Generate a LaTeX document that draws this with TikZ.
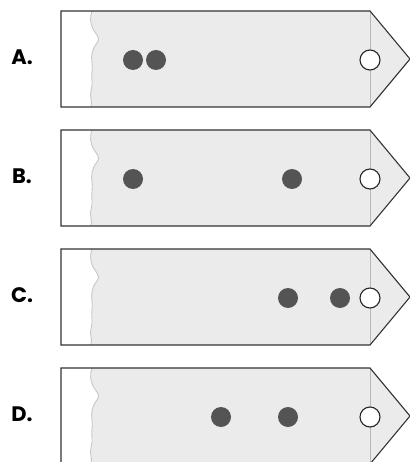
\documentclass[tikz,border=0pt]{standalone}
\usepackage{fontspec}
\setsansfont{Poppins}
\usetikzlibrary{calc,positioning}
\tikzset{
  tagline/.style={
      draw=black!80,
      line width=1.1pt,
      line join=miter,
  },
  paper/.style={
      fill=black!8,
  },
  tear/.style={
      draw=black!22,
      line width=0.9pt,
  },
  fold/.style={
      draw=black!28,
      line width=0.8pt,
  },
  hole/.style={
      circle,
      draw=black!85,
      line width=1.1pt,
      fill=white,
      minimum size=20pt,
      inner sep=0pt,
  },
  bead/.style={
      circle,
      fill=black!67,
      minimum size=20pt,
      inner sep=0pt,
  },
  letter/.style={
      font=\sffamily\bfseries\fontsize{21}{21}\selectfont,
  },
}
\newcommand{\tagoutline}{(61,0) -- (370,0) -- (410,48) -- (370,96) -- (61,96) -- cycle}
\newcommand{\tearedge}{(92,0) .. controls (90,6) and (90,12) .. (93,18)
  .. controls (96,24) and (101,26) .. (97,32)
  .. controls (92,38) and (91,44) .. (92,52)
  .. controls (93,58) and (91,64) .. (92,70)
  .. controls (93,76) and (89,82) .. (91,88)
  .. controls (92,92) and (91,94) .. (91,96)}

\begin{document}
\begin{tikzpicture}[x=1pt,y=-1pt]
  \useasboundingbox (0,0) rectangle (409,462);
  % one tag per answer
  \foreach \lbl/\top/\beads in {A/11/{133,156}, B/130/{133,292}, C/249/{288,340}, D/368/{221,288}} {
    \begin{scope}[shift={(0,\top)}]
      \fill[paper] \tagoutline;
      \fill[white] (61,0) -- \tearedge -- (61,96) -- cycle;
      \draw[tear] \tearedge;
      \draw[fold] (370,0) -- (370,96);
      \draw[tagline] \tagoutline;
      \node (lbl\lbl) [letter] at (22,46) {\lbl.};
      \foreach \bx [count=\i] in \beads {
        \node (bead\lbl\i) [bead] at (\bx,49) {};
      }
      \node (hole\lbl) [hole] at (370,49) {};
    \end{scope}
  }
\end{tikzpicture}
\end{document}
